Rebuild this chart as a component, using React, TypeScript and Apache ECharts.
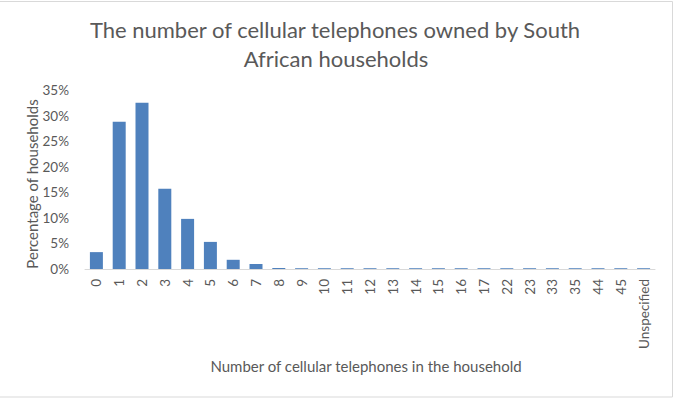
import React, { useEffect, useRef } from "react";
import * as echarts from "echarts";

const categories = ["0", "1", "2", "3", "4", "5", "6", "7", "8", "9", "10", "11", "12", "13", "14", "15", "16", "17", "22", "23", "33", "35", "44", "45", "Unspecified"];
const percentages = [3.3, 28.8, 32.5, 15.7, 9.8, 5.3, 1.8, 1.0, 0.2, 0.15, 0.15, 0.15, 0.15, 0.15, 0.15, 0.15, 0.15, 0.15, 0.15, 0.15, 0.15, 0.15, 0.15, 0.15, 0.15];
const titleLines = ["The number of cellular telephones owned by South", "African households"];
const xAxisName = "Number of cellular telephones in the household";
const yAxisName = "Percentage of households";

const FONT = "Lato";
const GRAY = "#595959";

export default function App() {
  const ref = useRef<HTMLDivElement>(null);
  useEffect(() => {
    if (!ref.current) return;
    const chart = echarts.init(ref.current, null, { renderer: "svg" });
    chart.setOption({
      animation: false,
      backgroundColor: "#ffffff",
      graphic: [
        {
          type: "rect",
          shape: { x: -2, y: 1.5, width: 674.5, height: 395.5 },
          style: { fill: "none", stroke: "#d9d9d9", lineWidth: 1 },
          silent: true,
        },
        {
          type: "text",
          x: 335,
          y: 29,
          style: { text: titleLines[0], fontFamily: FONT, fontSize: 22, fill: GRAY, align: "center", verticalAlign: "middle" },
        },
        {
          type: "text",
          x: 336,
          y: 58,
          style: { text: titleLines[1], fontFamily: FONT, fontSize: 22, fill: GRAY, align: "center", verticalAlign: "middle" },
        },
        {
          type: "text",
          x: 366,
          y: 366,
          style: { text: xAxisName, fontFamily: FONT, fontSize: 15, fill: GRAY, align: "center", verticalAlign: "middle" },
        },
        {
          type: "text",
          x: 32,
          y: 184,
          rotation: Math.PI / 2,
          style: { text: yAxisName, fontFamily: FONT, fontSize: 15, fill: GRAY, align: "center", verticalAlign: "middle" },
        },
      ],
      grid: { left: 85, right: 19, top: 90, bottom: 130, containLabel: false },
      xAxis: {
        type: "category",
        data: categories,
        axisLine: { lineStyle: { color: "#d9d9d9", width: 1 } },
        axisTick: { show: false },
        axisLabel: { rotate: 90, interval: 0, fontFamily: FONT, fontSize: 13.5, color: GRAY, margin: 10 },
      },
      yAxis: {
        type: "value",
        min: 0,
        max: 35,
        interval: 5,
        splitLine: { show: false },
        axisLine: { show: false },
        axisTick: { show: false },
        axisLabel: { formatter: "{value}%", fontFamily: FONT, fontSize: 13.5, color: GRAY, margin: 16 },
      },
      series: [
        {
          type: "bar",
          data: percentages,
          barCategoryGap: "43%",
          itemStyle: { color: "#4f81bd" },
        },
      ],
    });
    return () => chart.dispose();
  }, []);
  return <div ref={ref} style={{ position: "fixed", left: 0, top: 0, width: 674, height: 399 }} />;
}
